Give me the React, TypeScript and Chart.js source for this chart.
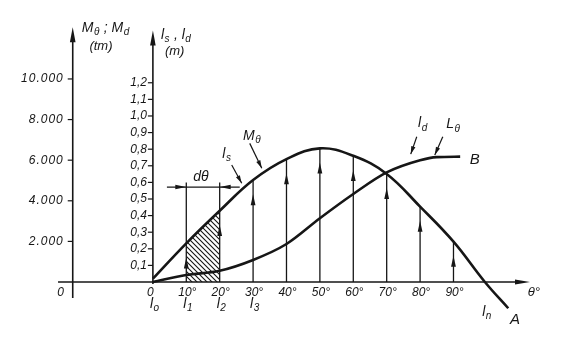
import { useEffect, useRef } from 'react';
import { Chart, registerables } from 'chart.js';

Chart.register(...registerables);

// ---- data ----
const thetaA = [0, 10, 20, 30, 40, 50, 60, 70, 80, 90, 99.4, 106.4];
const lsA = [0.02, 0.233, 0.429, 0.614, 0.74, 0.805, 0.76, 0.651, 0.454, 0.243, 0, -0.158];
const thetaB = [0, 10, 20, 30, 40, 50, 60, 70, 80, 85, 92];
const ldB = [0, 0.042, 0.068, 0.133, 0.229, 0.384, 0.53, 0.66, 0.733, 0.752, 0.755];
const stemThetas = [10, 20, 30, 40, 50, 60, 70, 80, 90];
const degreeLabels = ['10°', '20°', '30°', '40°', '50°', '60°', '70°', '80°', '90°'];
const lTicks = [0.1, 0.2, 0.3, 0.4, 0.5, 0.6, 0.7, 0.8, 0.9, 1.0, 1.1, 1.2];
const lTickLabels = ['0,1', '0,2', '0,3', '0,4', '0,5', '0,6', '0,7', '0,8', '0,9', '1,0', '1,1', '1,2'];
const mTicks = [2000, 4000, 6000, 8000, 10000];
const mTickLabels = ['2.000', '4.000', '6.000', '8.000', '10.000'];
const stationThetas = [0, 10, 20, 30];
const stationSubs = ['o', '1', '2', '3'];
const hatchFrom = 10;
const hatchTo = 20;
const dThetaLevel = 0.572;
const mAxisTheta = -24;
const mPerL = 8177;

const X_MIN = -33.8;
const X_MAX = 117.4;
const Y_MIN = -0.289;
const Y_MAX = 1.578;
const INK = '#161616';
const FONT = '"Liberation Sans"';

function head(ctx: CanvasRenderingContext2D, x: number, y: number, ang: number, len: number, half: number) {
  ctx.save();
  ctx.translate(x, y);
  ctx.rotate(ang);
  ctx.beginPath();
  ctx.moveTo(0, 0);
  ctx.lineTo(-len, -half);
  ctx.lineTo(-len, half);
  ctx.closePath();
  ctx.fill();
  ctx.restore();
}

function line(ctx: CanvasRenderingContext2D, x1: number, y1: number, x2: number, y2: number) {
  ctx.beginPath();
  ctx.moveTo(x1, y1);
  ctx.lineTo(x2, y2);
  ctx.stroke();
}

function subText(ctx: CanvasRenderingContext2D, parts: [string, string][], x: number, y: number, size: number) {
  let cx = x;
  ctx.textAlign = 'left';
  ctx.textBaseline = 'middle';
  for (const [main, sub] of parts) {
    ctx.font = `italic ${size}px ${FONT}`;
    ctx.fillText(main, cx, y);
    cx += ctx.measureText(main).width;
    if (sub) {
      ctx.font = `italic ${Math.round(size * 0.72)}px ${FONT}`;
      ctx.fillText(sub, cx + 0.5, y + size * 0.32);
      cx += ctx.measureText(sub).width + 1;
    }
  }
}

const sketchPlugin = {
  id: 'sketch',
  beforeDatasetsDraw(chart: any) {
    const ctx: CanvasRenderingContext2D = chart.ctx;
    const xs = chart.scales.x;
    const ys = chart.scales.y;
    const ms = chart.scales.yM;
    const px = (v: number) => xs.getPixelForValue(v);
    const py = (v: number) => ys.getPixelForValue(v);
    ctx.save();
    ctx.strokeStyle = INK;
    ctx.fillStyle = INK;
    ctx.lineCap = 'butt';

    // theta axis
    ctx.lineWidth = 1.6;
    const y0 = py(0);
    line(ctx, px(-28.4), y0, px(111), y0);
    head(ctx, px(112.9), y0, 0, 15, 2.6);

    // M axis
    const xm = px(mAxisTheta);
    line(ctx, xm, y0 + 16, xm, py(1.46));
    head(ctx, xm, py(1.535), -Math.PI / 2, 15, 2.8);
    ctx.lineWidth = 1.2;
    mTicks.forEach((m) => {
      const y = ms.getPixelForValue(m);
      line(ctx, xm - 5, y, xm, y);
    });

    // l axis
    ctx.lineWidth = 1.6;
    const xl = px(0);
    line(ctx, xl, y0 + 2, xl, py(1.44));
    head(ctx, xl, py(1.515), -Math.PI / 2, 15, 2.8);
    ctx.lineWidth = 1.2;
    lTicks.forEach((v) => {
      const y = py(v);
      line(ctx, xl - 5, y, xl, y);
    });

    // vertical arrows (stems)
    ctx.lineWidth = 1.3;
    stemThetas.forEach((t) => {
      const val = lsA[thetaA.indexOf(t)];
      const top = t <= hatchTo ? 0.6 : val;
      const x = px(t);
      line(ctx, x, y0, x, py(top));
      head(ctx, x, py(val - 0.085), -Math.PI / 2, 11, 2.4);
    });

    // d theta dimension line
    const yd = py(dThetaLevel);
    line(ctx, px(4.2), yd, px(26), yd);
    head(ctx, px(hatchFrom), yd, 0, 11, 2.2);
    head(ctx, px(hatchTo), yd, Math.PI, 11, 2.2);
    ctx.restore();
  },
  afterDatasetsDraw(chart: any) {
    const ctx: CanvasRenderingContext2D = chart.ctx;
    const xs = chart.scales.x;
    const ys = chart.scales.y;
    const ms = chart.scales.yM;
    const px = (v: number) => xs.getPixelForValue(v);
    const py = (v: number) => ys.getPixelForValue(v);
    ctx.save();
    ctx.fillStyle = INK;
    ctx.strokeStyle = INK;
    const xm = px(mAxisTheta);
    const xl = px(0);
    const y0 = py(0);

    // M tick labels
    ctx.font = `italic 12px ${FONT}`;
    ctx.textAlign = 'right';
    ctx.textBaseline = 'middle';
    (ctx as any).letterSpacing = '1px';
    mTicks.forEach((m, i) => ctx.fillText(mTickLabels[i], xm - 9, ms.getPixelForValue(m)));
    (ctx as any).letterSpacing = '0px';

    // l tick labels
    ctx.font = `italic 12px ${FONT}`;
    lTicks.forEach((v, i) => ctx.fillText(lTickLabels[i], xl - 6, py(v)));

    // degree labels
    ctx.textAlign = 'center';
    ctx.font = `italic 12px ${FONT}`;
    stemThetas.forEach((t, i) => ctx.fillText(degreeLabels[i], px(t) + 1, y0 + 11));
    ctx.fillText('0', px(-0.8), y0 + 11);
    ctx.fillText('0', px(-27.6), y0 + 11);

    // station labels
    stationThetas.forEach((t, i) => subText(ctx, [['l', stationSubs[i]]], px(t) - 3, y0 + 22, 14));

    // axis titles
    subText(ctx, [['M', 'θ'], [' ; M', 'd']], px(-21.3), py(1.53), 14);
    ctx.font = `italic 13px ${FONT}`;
    ctx.textAlign = 'left';
    ctx.fillText('(tm)', px(-19), py(1.42));
    subText(ctx, [['l', 's'], [' , l', 'd']], px(2.4), py(1.49), 14);
    ctx.font = `italic 13px ${FONT}`;
    ctx.textAlign = 'left';
    ctx.fillText('(m)', px(3.6), py(1.39));

    // d theta
    ctx.font = `italic 14px ${FONT}`;
    ctx.textAlign = 'center';
    ctx.fillText('dθ', px(14.4), py(0.63));

    // curve labels with leaders
    subText(ctx, [['l', 's']], px(20.8), py(0.77), 14);
    subText(ctx, [['M', 'θ']], px(27.0), py(0.88), 14);
    subText(ctx, [['l', 'd']], px(79.4), py(0.955), 14);
    subText(ctx, [['L', 'θ']], px(87.8), py(0.95), 14);
    ctx.lineWidth = 1.2;
    const leaders: [number, number, number, number][] = [
      [23.6, 0.705, 26.6, 0.595],
      [29.0, 0.835, 32.6, 0.685],
      [79.0, 0.875, 77.2, 0.77],
      [86.8, 0.875, 84.4, 0.765],
    ];
    leaders.forEach(([t1, v1, t2, v2]) => {
      const x1 = px(t1), y1 = py(v1), x2 = px(t2), y2 = py(v2);
      line(ctx, x1, y1, x2, y2);
      head(ctx, x2, y2, Math.atan2(y2 - y1, x2 - x1), 8, 2.2);
    });

    ctx.font = `italic 15px ${FONT}`;
    ctx.textAlign = 'left';
    ctx.textBaseline = 'middle';
    ctx.fillText('B', px(94.9), py(0.735));
    ctx.fillText('A', px(106.9), py(-0.229));
    subText(ctx, [['l', 'n']], px(98.6), py(-0.18), 14);
    ctx.font = `italic 13px ${FONT}`;
    ctx.textAlign = 'left';
    ctx.fillText('θ°', px(112.2), py(-0.06));
    ctx.restore();
  },
};

export default function App() {
  const ref = useRef<HTMLCanvasElement | null>(null);
  useEffect(() => {
    const canvas = ref.current;
    if (!canvas) return;
    const pc = document.createElement('canvas');
    pc.width = 5;
    pc.height = 5;
    const pctx = pc.getContext('2d')!;
    pctx.strokeStyle = INK;
    pctx.lineWidth = 1.1;
    pctx.beginPath();
    pctx.moveTo(-1, -1);
    pctx.lineTo(6, 6);
    pctx.moveTo(-1, 4);
    pctx.lineTo(1, 6);
    pctx.moveTo(4, -1);
    pctx.lineTo(6, 1);
    pctx.stroke();
    const pattern = canvas.getContext('2d')!.createPattern(pc, 'repeat');

    const iFrom = thetaA.indexOf(hatchFrom);
    const iTo = thetaA.indexOf(hatchTo);
    const hatchData = thetaA.slice(iFrom, iTo + 1).map((t, i) => ({ x: t, y: lsA[iFrom + i] }));

    const chart = new Chart(canvas, {
      type: 'line',
      data: {
        datasets: [
          {
            label: 'hatch',
            data: hatchData,
            fill: 'origin',
            backgroundColor: pattern as any,
            borderWidth: 0,
            pointRadius: 0,
            order: 3,
          },
          {
            label: 'ls / Mθ',
            data: thetaA.map((t, i) => ({ x: t, y: lsA[i] })),
            borderColor: INK,
            borderWidth: 2.6,
            pointRadius: 0,
            fill: false,
            tension: 0.4,
            order: 1,
          },
          {
            label: 'ld / Lθ',
            data: thetaB.map((t, i) => ({ x: t, y: ldB[i] })),
            borderColor: INK,
            borderWidth: 2.6,
            pointRadius: 0,
            fill: false,
            cubicInterpolationMode: 'monotone',
            order: 2,
          },
        ],
      },
      options: {
        animation: false,
        responsive: false,
        events: [],
        layout: { padding: { left: 40, right: 23, top: 20, bottom: 9 } },
        plugins: { legend: { display: false }, tooltip: { enabled: false } },
        scales: {
          x: { type: 'linear', min: X_MIN, max: X_MAX, display: false },
          y: { type: 'linear', min: Y_MIN, max: Y_MAX, display: false },
          yM: { type: 'linear', axis: 'y', min: Y_MIN * mPerL, max: Y_MAX * mPerL, display: false },
        },
      },
      plugins: [sketchPlugin],
    });
    return () => chart.destroy();
  }, []);
  return (
    <div style={{ position: 'fixed', left: 0, top: 0, width: 568, height: 339, background: '#fff' }}>
      <canvas ref={ref} width={568} height={339} style={{ display: 'block' }} />
    </div>
  );
}
